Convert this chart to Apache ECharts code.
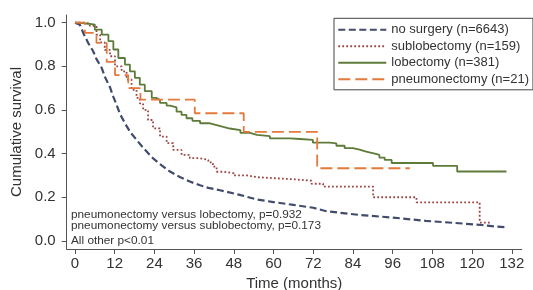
<!DOCTYPE html>
<html>
<head>
<meta charset="utf-8">
<script src="https://cdn.jsdelivr.net/npm/echarts@6/dist/echarts.min.js"></script>
<style>html,body{margin:0;padding:0;background:#fff;}#c{width:533px;height:290px;}</style>
</head>
<body>
<div id="c"></div>
<script>
// ---- data (months, cumulative survival) ----
const seriesNames = ['no surgery (n=6643)', 'sublobectomy (n=159)', 'lobectomy (n=381)', 'pneumonectomy (n=21)'];
const xTicks = [0, 12, 24, 36, 48, 60, 72, 84, 96, 108, 120, 132];
const yTicks = [0, 0.2, 0.4, 0.6, 0.8, 1.0];
const annotations = ['pneumonectomy versus lobectomy, p=0.932', 'pneumonectomy versus sublobectomy, p=0.173', 'All other p<0.01'];

const noSurgery = [
  [0,1.0],[1.5,0.99],[2.5,0.953],[4,0.907],[5.5,0.869],[6.5,0.833],[8.1,0.792],[9.1,0.75],
  [10.6,0.703],[11.6,0.66],[12.6,0.622],[13.6,0.582],[15.1,0.539],[16.6,0.501],[18.6,0.463],
  [20.6,0.427],[23.2,0.384],[25.7,0.352],[28.7,0.318],[31.7,0.293],[34.7,0.272],[37.8,0.255],
  [40.3,0.243],[43.8,0.232],[49.8,0.211],[54.9,0.19],[60,0.178],[66,0.165],[72,0.152],[76,0.136],
  [86,0.119],[96,0.107],[106,0.092],[116,0.081],[123,0.073],[127,0.066],[130.4,0.063]
];
const sublobectomy = [
  [0,1.0],[3,0.995],[4.5,0.985],[6.5,0.945],[7.6,0.91],[9,0.875],[10.6,0.846],[12.1,0.80],
  [14.1,0.777],[15.6,0.739],[17.1,0.692],[18.6,0.655],[19.6,0.63],[20.6,0.60],[22.1,0.554],
  [23.6,0.516],[25.7,0.478],[27.7,0.448],[29.7,0.417],[32.2,0.394],[34.7,0.379],[37.8,0.371],
  [40.3,0.36],[41.7,0.34],[42.8,0.317],[44.8,0.31],[48,0.30],[52,0.292],[55,0.283],[65.4,0.276],
  [71.5,0.262],[75,0.249],[90.1,0.2],[103.2,0.177],[122.3,0.084],[125.9,0.084]
];
const lobectomy = [
  [0,1.0],[1,0.995],[4,0.991],[6,0.968],[8.1,0.945],[10.1,0.915],[11.6,0.877],[13.1,0.838],
  [15.1,0.808],[16.6,0.777],[18.1,0.747],[19.6,0.716],[21.1,0.686],[23.2,0.655],[24.7,0.646],
  [25.7,0.632],[27.7,0.62],[28.7,0.612],[30.7,0.592],[32.2,0.577],[33.7,0.562],[35.5,0.55],
  [37.8,0.539],[40.8,0.531],[42.8,0.522],[44.8,0.515],[46.8,0.508],[50,0.495],[52.9,0.486],
  [55,0.48],[58.9,0.47],[65,0.467],[68,0.463],[71.9,0.45],[77,0.447],[79,0.436],[81.5,0.425],
  [84,0.418],[86,0.409],[88,0.40],[90.6,0.394],[92,0.382],[93.6,0.371],[95.7,0.357],
  [108.2,0.344],[115.5,0.318],[130.4,0.318]
];
const pneumonectomy = [
  [0,1.0],[3,0.953],[6.5,0.907],[9.6,0.82],[12.1,0.76],[16.1,0.70],[19.8,0.647],[36.2,0.585],
  [51,0.50],[73.2,0.333],[101.2,0.333]
];

const FONT = "'Liberation Sans', Arial, sans-serif";
const chart = echarts.init(document.getElementById('c'), null, {renderer: 'canvas'});

function kmSeries(name, data, color, type, width, step) {
  return {
    name: name, type: 'line', data: data, step: step,
    symbol: 'none', showSymbol: false, silent: true, animation: false,
    lineStyle: {color: color, width: width, type: type},
    itemStyle: {color: color}
  };
}

chart.setOption({
  animation: false,
  backgroundColor: '#fff',
  grid: {left: 66.7, right: 11.3, top: 15, bottom: 41, containLabel: false, outerBoundsMode: 'none'},
  legend: {
    orient: 'vertical', left: 334, top: 18.3,
    itemWidth: 48, itemHeight: 14, itemGap: 3.5, padding: [5, 4, 4, 3.3],
    borderColor: '#444', borderWidth: 1, selectedMode: false,
    itemStyle: {opacity: 0, borderWidth: 0},
    textStyle: {fontFamily: FONT, fontSize: 13, color: '#333'},
    data: seriesNames
  },
  xAxis: {
    type: 'value', min: -2.5, max: 135,
    name: 'Time (months)', nameLocation: 'middle', nameGap: 25,
    nameTextStyle: {fontFamily: FONT, fontSize: 15, color: '#333'},
    axisLine: {show: true, onZero: false, lineStyle: {color: '#555', width: 1}},
    axisTick: {show: true, length: 5, customValues: xTicks, lineStyle: {color: '#555'}},
    axisLabel: {customValues: xTicks, margin: 7, fontFamily: FONT, fontSize: 15, color: '#333'},
    splitLine: {show: false}
  },
  yAxis: {
    type: 'value', min: -0.037, max: 1.035,
    name: 'Cumulative survival', nameLocation: 'middle', nameGap: 41, nameRotate: 90,
    nameTextStyle: {fontFamily: FONT, fontSize: 15, color: '#333'},
    axisLine: {show: true, onZero: false, lineStyle: {color: '#555', width: 1}},
    axisTick: {show: true, length: 5, customValues: yTicks, lineStyle: {color: '#555'}},
    axisLabel: {customValues: yTicks, margin: 11, fontFamily: FONT, fontSize: 15, color: '#333',
      formatter: v => v.toFixed(1)},
    splitLine: {show: false}
  },
  graphic: annotations.map((t, i) => ({
    type: 'text', left: 71, top: [208.5, 220.2, 234.5][i], silent: true,
    style: {text: t, fontFamily: FONT, fontSize: 11.8, fill: '#333'}
  })),
  series: [
    kmSeries(seriesNames[0], noSurgery, '#414b6b', [7, 3.5], 2.2, false),
    kmSeries(seriesNames[1], sublobectomy, '#9a4646', [1.8, 2.2], 1.8, 'end'),
    kmSeries(seriesNames[2], lobectomy, '#5e7b3a', 'solid', 1.8, 'end'),
    kmSeries(seriesNames[3], pneumonectomy, '#e37a3c', [12, 5], 1.8, 'end')
  ]
});
</script>
</body>
</html>
